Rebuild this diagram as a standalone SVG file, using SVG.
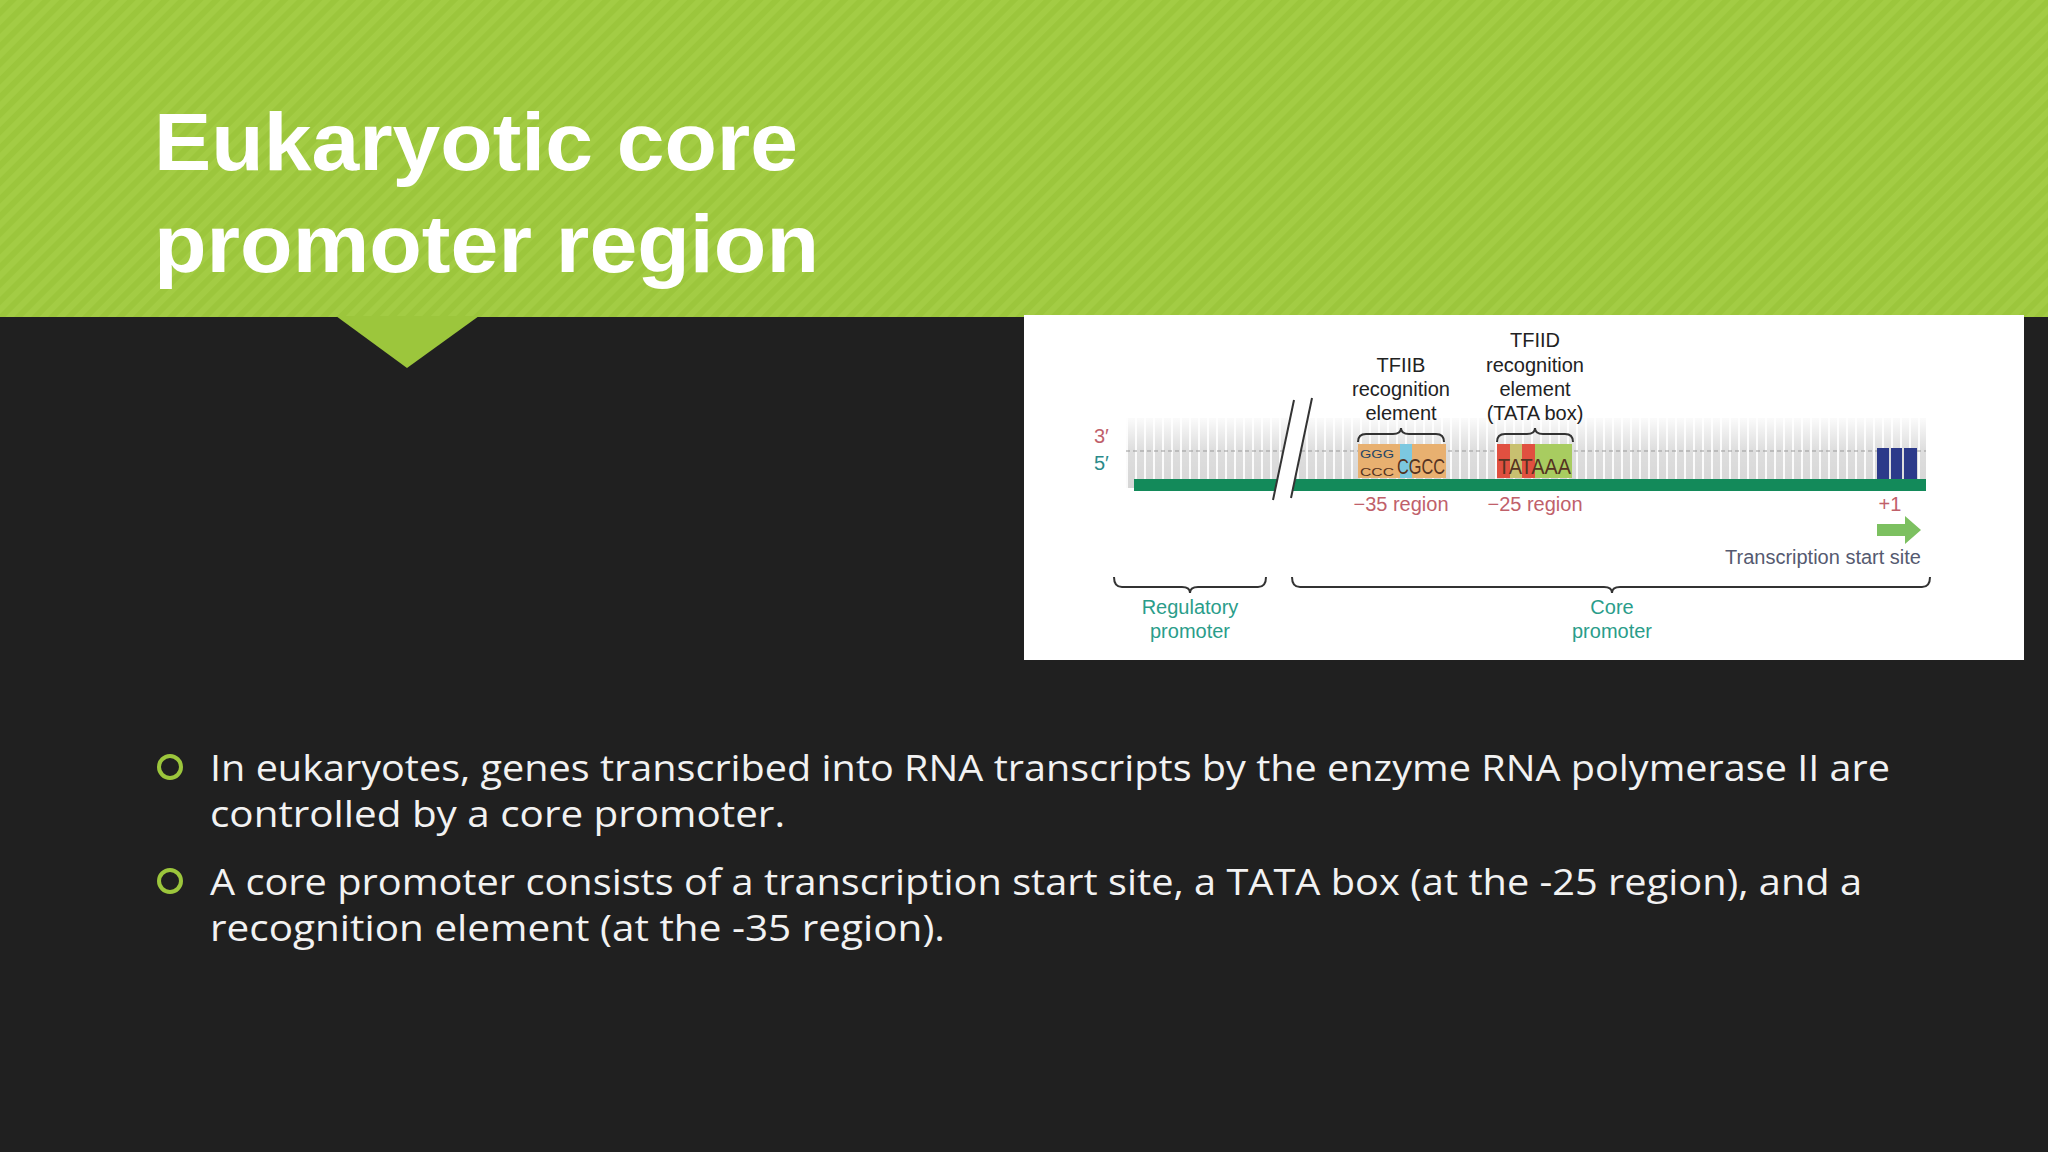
<svg xmlns="http://www.w3.org/2000/svg" width="2048" height="1152" viewBox="0 0 2048 1152">
<defs>
<style>
.t{font-family:"Liberation Sans",Arial,sans-serif}
.lab{font-family:"Liberation Sans",Arial,sans-serif;font-size:20px;fill:#222;text-anchor:middle}
.red{fill:#c0606a}
.teal{fill:#2a9d8a;font-family:"Liberation Sans",Arial,sans-serif;font-size:20px;text-anchor:middle}
.br{fill:none;stroke:#333;stroke-width:2}
.bul{font-family:"Open Sans","Liberation Sans",sans-serif;font-size:36px;fill:#f2f2f2}
</style>
<pattern id="stripes" width="12" height="12" patternUnits="userSpaceOnUse" patternTransform="rotate(45)">
<rect width="12" height="12" fill="#9cc63c"/><rect width="6" height="12" fill="#a3cc44"/>
</pattern>
<pattern id="ticks" width="9" height="80" patternUnits="userSpaceOnUse" x="1126">
<rect width="9" height="80" fill="#d6d6d6"/><rect x="0" width="2" height="80" fill="#fafafa"/>
</pattern>
<linearGradient id="fade" x1="0" y1="0" x2="0" y2="1">
<stop offset="0" stop-color="#fff" stop-opacity="0.9"/><stop offset="0.45" stop-color="#fff" stop-opacity="0.2"/><stop offset="1" stop-color="#fff" stop-opacity="0"/>
</linearGradient>
</defs>
<rect width="2048" height="1152" fill="#202020"/>
<g id="header">
<rect width="2048" height="317" fill="url(#stripes)"/>
<polygon points="336,316 479,316 407,368" fill="#9cc63c"/>
<text class="t" x="154" y="170" font-size="82" font-weight="bold" fill="#fff" textLength="644" lengthAdjust="spacingAndGlyphs">Eukaryotic core</text>
<text class="t" x="154" y="272" font-size="82" font-weight="bold" fill="#fff" textLength="665" lengthAdjust="spacingAndGlyphs">promoter region</text>
</g>
<g id="figure">
<rect x="1024" y="315" width="1000" height="345" fill="#fff"/>
<rect x="1126" y="418" width="800" height="70" fill="url(#ticks)"/>
<rect x="1126" y="418" width="800" height="70" fill="url(#fade)"/>
<line x1="1126" y1="451" x2="1926" y2="451" stroke="#999" stroke-dasharray="4,3"/>
<rect x="1877" y="448" width="40" height="35" fill="#2c3a8a"/>
<line x1="1890" y1="448" x2="1890" y2="483" stroke="#ddd" stroke-width="2"/>
<line x1="1903" y1="448" x2="1903" y2="483" stroke="#ddd" stroke-width="2"/>
<rect x="1134" y="479" width="792" height="12" fill="#138a5a"/>
<polygon points="1294,400 1312,400 1291,500 1273,500" fill="#fff"/>
<line x1="1294" y1="400" x2="1273" y2="500" stroke="#333" stroke-width="2"/>
<line x1="1312" y1="398" x2="1291" y2="498" stroke="#333" stroke-width="2"/>
<text class="t red" x="1094" y="443" font-size="20">3′</text>
<text class="t" x="1094" y="470" font-size="20" fill="#2a8a8a">5′</text>
<g id="tfiib">
<text class="lab" x="1401" y="372">TFIIB</text>
<text class="lab" x="1401" y="396">recognition</text>
<text class="lab" x="1401" y="420">element</text>
<path class="br" d="M1358,442 q0,-8 8,-8 h27 q8,0 8,-6 q0,6 8,6 h27 q8,0 8,8"/>
<rect x="1358" y="444" width="22" height="34" fill="#e8b070"/>
<rect x="1380" y="444" width="20" height="34" fill="#e8b070"/>
<rect x="1400" y="444" width="12" height="34" fill="#7cc8e0"/>
<rect x="1412" y="444" width="12" height="34" fill="#e8b070"/>
<rect x="1424" y="444" width="22" height="34" fill="#e8b070"/>
<text class="t" x="1360" y="458" font-size="11" fill="#246" textLength="34" lengthAdjust="spacingAndGlyphs">GGG</text>
<text class="t" x="1360" y="476" font-size="11" fill="#532" textLength="34" lengthAdjust="spacingAndGlyphs">CCC</text>
<text class="t" x="1397" y="474" font-size="22" fill="#532" textLength="48" lengthAdjust="spacingAndGlyphs">CGCC</text>
</g>
<g id="tfiid">
<text class="lab" x="1535" y="347">TFIID</text>
<text class="lab" x="1535" y="372">recognition</text>
<text class="lab" x="1535" y="396">element</text>
<text class="lab" x="1535" y="420">(TATA box)</text>
<path class="br" d="M1497,442 q0,-8 8,-8 h22 q8,0 8,-6 q0,6 8,6 h22 q8,0 8,8"/>
<rect x="1497" y="444" width="13" height="34" fill="#e05040"/>
<rect x="1510" y="444" width="12" height="34" fill="#c8c070"/>
<rect x="1522" y="444" width="13" height="34" fill="#e05040"/>
<rect x="1535" y="444" width="37" height="34" fill="#a8cc60"/>
<text class="t" x="1498" y="474" font-size="22" fill="#532" textLength="73" lengthAdjust="spacingAndGlyphs">TATAAA</text>
</g>
<text class="t red" x="1401" y="511" font-size="20" text-anchor="middle">−35 region</text>
<text class="t red" x="1535" y="511" font-size="20" text-anchor="middle">−25 region</text>
<text class="t red" x="1890" y="511" font-size="20" text-anchor="middle">+1</text>
<polygon points="1877,524 1905,524 1905,516 1921,530 1905,544 1905,536 1877,536" fill="#7cc060"/>
<text class="t" x="1921" y="564" font-size="20" fill="#555a70" text-anchor="end">Transcription start site</text>
<path class="br" d="M1114,577 q0,10 8,10 h60 q8,0 8,6 q0,-6 8,-6 h60 q8,0 8,-10"/>
<path class="br" d="M1292,577 q0,10 8,10 h304 q8,0 8,6 q0,-6 8,-6 h302 q8,0 8,-10"/>
<text class="teal" x="1190" y="614">Regulatory</text>
<text class="teal" x="1190" y="638">promoter</text>
<text class="teal" x="1612" y="614">Core</text>
<text class="teal" x="1612" y="638">promoter</text>
</g>
<g id="bullets">
<circle cx="170" cy="767" r="11" fill="none" stroke="#9cc63c" stroke-width="4"/>
<text class="bul" x="210" y="781" textLength="1680" lengthAdjust="spacingAndGlyphs">In eukaryotes, genes transcribed into RNA transcripts by the enzyme RNA polymerase II are</text>
<text class="bul" x="210" y="827" textLength="575" lengthAdjust="spacingAndGlyphs">controlled by a core promoter.</text>
<circle cx="170" cy="881" r="11" fill="none" stroke="#9cc63c" stroke-width="4"/>
<text class="bul" x="210" y="895" textLength="1652" lengthAdjust="spacingAndGlyphs">A core promoter consists of a transcription start site, a TATA box (at the -25 region), and a</text>
<text class="bul" x="210" y="941" textLength="735" lengthAdjust="spacingAndGlyphs">recognition element (at the -35 region).</text>
</g>
</svg>
